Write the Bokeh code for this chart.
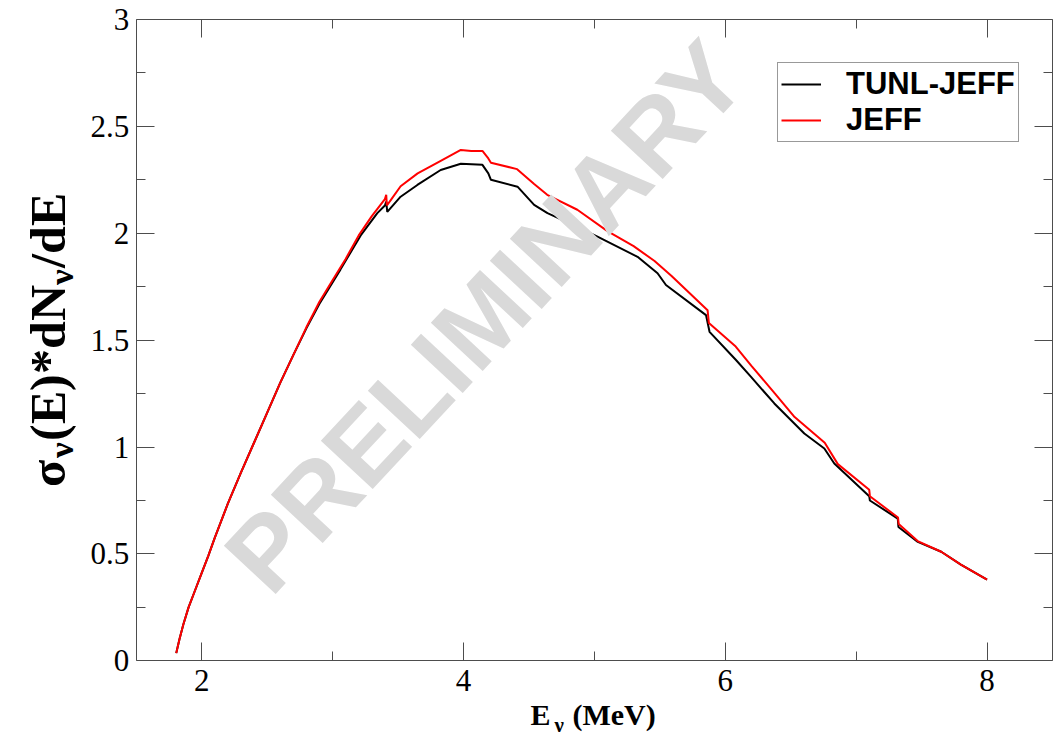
import numpy as np
from bokeh.plotting import figure
from bokeh.models import (Range1d, FixedTicker, LinearAxis, Legend, LegendItem,
                          NumeralTickFormatter)
from bokeh.core.properties import value
from bokeh.embed import file_html
from bokeh.resources import INLINE

# ---------------- data ----------------
E_jeff = [1.806, 1.83, 1.86, 1.90, 1.95, 2.00, 2.05, 2.10, 2.20, 2.30, 2.40, 2.50, 2.60,
          2.70, 2.80, 2.90, 3.00, 3.10, 3.20, 3.30, 3.40, 3.41, 3.415, 3.45, 3.52, 3.65,
          3.83, 3.98, 4.06, 4.145, 4.19, 4.21, 4.41, 4.54, 4.64, 4.87, 5.10, 5.30, 5.46,
          5.59, 5.865, 5.875, 6.08, 6.20, 6.38, 6.53, 6.76, 6.86, 7.10, 7.105, 7.32,
          7.325, 7.47, 7.65, 7.80, 8.00]
y_jeff = [0.036, 0.10, 0.17, 0.25, 0.33, 0.41, 0.49, 0.575, 0.735, 0.88, 1.02, 1.16, 1.30,
          1.43, 1.56, 1.68, 1.78, 1.88, 1.99, 2.08, 2.16, 2.18, 2.13, 2.16, 2.22, 2.28,
          2.34, 2.39, 2.385, 2.385, 2.35, 2.33, 2.30, 2.23, 2.18, 2.11, 2.01, 1.94, 1.87,
          1.80, 1.64, 1.58, 1.47, 1.38, 1.25, 1.14, 1.02, 0.92, 0.80, 0.77, 0.67,
          0.64, 0.56, 0.51, 0.45, 0.38]

E_tunl = [1.806, 1.83, 1.86, 1.90, 1.95, 2.00, 2.05, 2.10, 2.20, 2.30, 2.40, 2.50, 2.60,
          2.70, 2.80, 2.90, 3.00, 3.06, 3.215, 3.342, 3.40, 3.41, 3.418, 3.52, 3.648,
          3.826, 3.98, 4.145, 4.19, 4.21, 4.413, 4.54, 4.642, 4.80, 5.024, 5.33, 5.483,
          5.547, 5.853, 5.88, 6.082, 6.197, 6.375, 6.604, 6.757, 6.833, 7.10, 7.105,
          7.318, 7.323, 7.471, 7.65, 7.80, 8.00]
y_tunl = [0.036, 0.10, 0.17, 0.25, 0.33, 0.41, 0.49, 0.575, 0.735, 0.88, 1.02, 1.16, 1.30,
          1.43, 1.555, 1.67, 1.77, 1.83, 1.99, 2.094, 2.13, 2.148, 2.10, 2.171, 2.226,
          2.296, 2.325, 2.32, 2.28, 2.25, 2.218, 2.133, 2.094, 2.05, 1.984, 1.89, 1.813,
          1.758, 1.617, 1.539, 1.407, 1.328, 1.204, 1.063, 0.993, 0.923, 0.77, 0.75,
          0.665, 0.626, 0.556, 0.51, 0.45, 0.38]

series_labels = ["TUNL-JEFF", "JEFF"]
x_major = [2, 4, 6, 8]
x_minor = [3, 5, 7]
y_major = [0, 0.5, 1, 1.5, 2, 2.5, 3]
y_minor = [0.25, 0.75, 1.25, 1.75, 2.25, 2.75]
x_lim = (1.5, 8.5)
y_lim = (0.0, 3.0)
watermark_text = "PRELIMINARY"

# ---------------- layout geometry (pixels on the 1064x737 canvas) ----------------
W, H = 1064, 737
BOX_L, BOX_R, BOX_T, BOX_B = 135.7, 1052.0, 19.0, 660.3
SXp = (BOX_R - BOX_L) / (x_lim[1] - x_lim[0])
SYp = (BOX_B - BOX_T) / (y_lim[1] - y_lim[0])
x_start = x_lim[0] - BOX_L / SXp
x_end = x_start + W / SXp
y_end = y_lim[1] + BOX_T / SYp
y_start = y_end - H / SYp


def X(px):
    return x_start + px / SXp


def Y(py):
    return y_end - py / SYp


MID = 0.34  # distance (in em) from the alphabetic baseline up to the em-box middle

AX = "#4d4d4d"
p = figure(width=W, height=H, output_backend="svg", toolbar_location=None, title=None,
           x_range=Range1d(x_start, x_end), y_range=Range1d(y_start, y_end),
           min_border=0, x_axis_location=None, y_axis_location=None)
p.xgrid.visible = False
p.ygrid.visible = False
p.outline_line_color = None
p.background_fill_color = "white"
p.border_fill_color = "white"

# bold faces reachable without a "bold" style flag (rotated bold text is unreliable in svg)
FONT_CSS = """
@font-face { font-family: "WMBoldSans"; src: local("Liberation Sans Bold"), local("LiberationSans-Bold"); }
@font-face { font-family: "YTBoldSerif"; src: local("Liberation Serif Bold"), local("LiberationSerif-Bold"); }
"""
try:
    from bokeh.models import GlobalInlineStyleSheet
    p.stylesheets = [GlobalInlineStyleSheet(css=FONT_CSS)]
except Exception:
    pass


def style_axis(ax, show_labels, standoff):
    ax.axis_line_color = AX
    ax.axis_line_width = 1
    ax.major_tick_line_color = AX
    ax.minor_tick_line_color = AX
    ax.major_tick_in = 18
    ax.major_tick_out = 0
    ax.minor_tick_in = 9
    ax.minor_tick_out = 0
    ax.major_label_standoff = standoff
    ax.formatter = NumeralTickFormatter(format="0.[0]")
    if show_labels:
        ax.major_label_text_font = "Liberation Serif"
        ax.major_label_text_font_size = "31px"
        ax.major_label_text_color = "black"
    else:
        ax.major_label_text_font_size = "1px"
        ax.major_label_text_color = None


xt = FixedTicker(ticks=x_major, minor_ticks=x_minor)
yt = FixedTicker(ticks=y_major, minor_ticks=y_minor)
for loc, show, fl in (("below", True, y_lim[0]), ("above", False, y_lim[1])):
    ax = LinearAxis(ticker=xt, fixed_location=fl, bounds=x_lim)
    style_axis(ax, show, 9 if show else 0)
    p.add_layout(ax, loc)
for loc, show, fl in (("left", True, x_lim[0]), ("right", False, x_lim[1])):
    ax = LinearAxis(ticker=yt, fixed_location=fl, bounds=y_lim)
    style_axis(ax, show, 7 if show else 0)
    p.add_layout(ax, loc)

# ---------------- curves ----------------
r_black = p.line(E_tunl, y_tunl, line_color="black", line_width=2)
r_red = p.line(E_jeff, y_jeff, line_color="red", line_width=2)

# ---------------- watermark (glyph drawn after the curves, so on top) ----------------
ang = np.deg2rad(47.0)
WM_SIZE = 103
base_px, base_py = 270.0, 598.0          # start of the text baseline
up = (-np.sin(ang), -np.cos(ang))        # screen direction of glyph "up"
wm_px = base_px + up[0] * MID * WM_SIZE
wm_py = base_py + up[1] * MID * WM_SIZE
p.text(x=[X(wm_px)], y=[Y(wm_py)], text=[watermark_text], angle=ang,
       text_font=value("WMBoldSans, Liberation Sans"), text_font_style="normal",
       text_font_size=f"{WM_SIZE}px", text_color="#d9d9d9",
       text_align="left", text_baseline="middle")

# ---------------- x title: E_nu (MeV) ----------------
S = 30
SS = 21
xt_base = 724.0
x_pieces = [("E", S, 530.0, 0), ("ν", SS, 554.0, 8), ("(MeV)", S, 572.0, 0)]
for txt, size, px, drop in x_pieces:
    p.text(x=[X(px)], y=[Y(xt_base + drop - MID * size)], text=[txt],
           text_font=value("Liberation Serif"), text_font_style="bold",
           text_font_size=f"{size}px", text_color="black",
           text_align="left", text_baseline="middle")

# ---------------- y title: sigma_nu(E)*dN_nu/dE (rotated) ----------------
SYF = 50
SYS = 35
yt_base = 64.0
y_pieces = [("σ", SYF, 0, 0.58), ("ν", SYS, 9, 0.5), ("(E)*dN", SYF, 0, 3.111),
            ("ν", SYS, 9, 0.5), ("/dE", SYF, 0, 1.501)]
total = sum(w * s for _, s, _, w in y_pieces)
cur = (BOX_T + BOX_B) / 2 + total / 2
for txt, size, drop, w in y_pieces:
    p.text(x=[X(yt_base + drop - MID * size)], y=[Y(cur)], text=[txt], angle=np.pi / 2,
           text_font=value("YTBoldSerif, Liberation Serif"), text_font_style="normal",
           text_font_size=f"{size}px", text_color="black",
           text_align="left", text_baseline="middle")
    cur -= w * size

# ---------------- legend ----------------
legend = Legend(items=[LegendItem(label=series_labels[0], renderers=[r_black]),
                       LegendItem(label=series_labels[1], renderers=[r_red])],
                location=(777, H - 142), orientation="vertical",
                label_text_font="Liberation Sans", label_text_font_style="bold",
                label_text_font_size="31px", label_text_color="black",
                glyph_width=40, glyph_height=20, label_standoff=25,
                padding=3, spacing=0, margin=0,
                border_line_color="#333333", border_line_width=1,
                background_fill_color="white", background_fill_alpha=1)
p.add_layout(legend)

open("out.html", "w").write(file_html(p, INLINE))
